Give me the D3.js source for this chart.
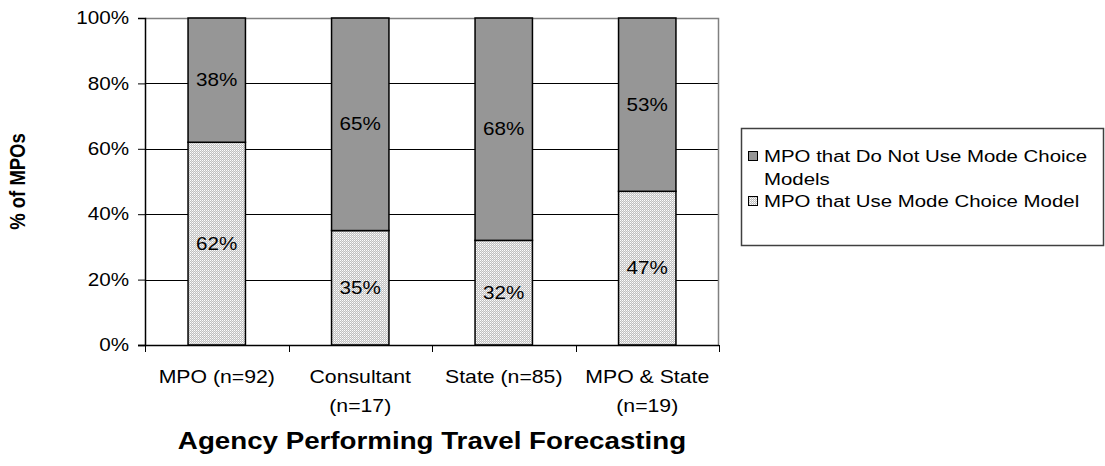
<!DOCTYPE html>
<html>
<head>
<meta charset="utf-8">
<script src="https://cdn.jsdelivr.net/npm/d3@7"></script>
<style>
  html, body { margin: 0; padding: 0; background: #fff; }
  svg { display: block; font-family: "Liberation Sans", Arial, sans-serif; }
</style>
</head>
<body>
<svg id="chart" width="1105" height="466"></svg>
<script>
// ---- data ----
const categories = ["MPO (n=92)", "Consultant (n=17)", "State (n=85)", "MPO & State (n=19)"];
const useModeChoice = [62, 35, 32, 47];
const notUseModeChoice = [38, 65, 68, 53];
const seriesNames = ["MPO that Do Not Use Mode Choice Models", "MPO that Use Mode Choice Model"];
const yTicks = [0, 20, 40, 60, 80, 100];
const yTitle = "% of MPOs";
const xTitle = "Agency Performing Travel Forecasting";

// ---- layout ----
const SX = 1.18; // horizontal text stretch seen in the reference
const svg = d3.select("#chart");
const plot = { left: 145, right: 719, top: 18, bottom: 345 };

const x = d3.scaleBand().domain(categories).range([plot.left, plot.right]).paddingInner(0.6).paddingOuter(0.3);
const xb = d3.scaleBand().domain(categories).range([plot.left, plot.right]);
const y = d3.scaleLinear().domain([0, 100]).range([plot.bottom, plot.top]);

// pattern for light series
const defs = svg.append("defs");
const pat = defs.append("pattern").attr("id", "dots").attr("patternUnits", "userSpaceOnUse")
  .attr("width", 2).attr("height", 2);
pat.append("rect").attr("width", 2).attr("height", 2).attr("fill", "#c0c0c0");
pat.append("rect").attr("width", 1).attr("height", 1).attr("fill", "#ffffff");
pat.append("rect").attr("x", 1).attr("y", 1).attr("width", 1).attr("height", 1).attr("fill", "#e4e4e4");

// gridlines
svg.append("g").selectAll("line").data(yTicks.filter(d => d > 0 && d < 100)).join("line")
  .attr("x1", plot.left).attr("x2", plot.right)
  .attr("y1", d => Math.round(y(d)) + 0.5).attr("y2", d => Math.round(y(d)) + 0.5)
  .attr("stroke", "#000").attr("stroke-width", 1);

// plot border (top/right gray)
svg.append("path")
  .attr("d", `M${plot.left},${plot.top + 0.5}H${plot.right - 0.5}V${plot.bottom}`)
  .attr("fill", "none").attr("stroke", "#808080").attr("stroke-width", 1.5);

// stacked data
const stack = categories.map((c, i) => ({ c, use: useModeChoice[i], not: notUseModeChoice[i] }));

const bars = svg.append("g");
bars.selectAll("rect.use").data(stack).join("rect").attr("class", "use")
  .attr("x", d => x(d.c)).attr("width", x.bandwidth())
  .attr("y", d => y(d.use)).attr("height", d => y(0) - y(d.use))
  .attr("fill", "url(#dots)").attr("stroke", "#000").attr("stroke-width", 1.5);
bars.selectAll("rect.not").data(stack).join("rect").attr("class", "not")
  .attr("x", d => x(d.c)).attr("width", x.bandwidth())
  .attr("y", d => y(d.use + d.not)).attr("height", d => y(d.use) - y(d.use + d.not))
  .attr("fill", "#969696").attr("stroke", "#000").attr("stroke-width", 1.5);

// value labels
const lbl = svg.append("g").attr("font-size", 17.5).attr("fill", "#000").attr("text-anchor", "middle");
function stretched(sel, fx, fy) {
  sel.attr("transform", d => `translate(${fx(d)},${fy(d)}) scale(${SX},1)`);
}
lbl.selectAll("text.u").data(stack).join("text").attr("dy", "0.35em")
  .call(stretched, d => x(d.c) + x.bandwidth() / 2, d => y(d.use / 2))
  .text(d => d.use + "%");
lbl.selectAll("text.n").data(stack).join("text").attr("dy", "0.35em")
  .call(stretched, d => x(d.c) + x.bandwidth() / 2, d => y(d.use + d.not / 2))
  .text(d => d.not + "%");

// y axis
const yAxis = svg.append("g").attr("transform", `translate(${plot.left},0)`)
  .call(d3.axisLeft(y).tickValues(yTicks).tickFormat(d => d + "%").tickSizeOuter(0).tickSize(7).tickPadding(9));
yAxis.select(".domain").attr("stroke", "#000").attr("stroke-width", 1.5);
yAxis.selectAll(".tick line").attr("stroke", "#000");
yAxis.selectAll(".tick text")
  .attr("font-size", 17.5).attr("font-family", "Liberation Sans, Arial, sans-serif").attr("fill", "#000")
  .attr("x", -16 / SX).attr("transform", `scale(${SX},1)`);

// x axis
const xAxis = svg.append("g").attr("transform", `translate(0,${plot.bottom})`);
xAxis.append("line").attr("x1", plot.left - 7).attr("x2", plot.right).attr("y1", 0.5).attr("y2", 0.5)
  .attr("stroke", "#000").attr("stroke-width", 1.5);
const boundaries = categories.map(c => xb(c)).concat([plot.right]);
xAxis.selectAll("line.tk").data(boundaries).join("line").attr("class", "tk")
  .attr("x1", d => Math.round(d) + 0.5).attr("x2", d => Math.round(d) + 0.5).attr("y1", 0).attr("y2", 7)
  .attr("stroke", "#000");

// x tick labels with wrapping
const xt = xAxis.selectAll("text.cat").data(categories).join("text").attr("class", "cat")
  .attr("transform", d => `translate(${xb(d) + xb.bandwidth() / 2},38) scale(${SX},1)`)
  .attr("text-anchor", "middle").attr("font-size", 18).attr("fill", "#000");
xt.each(function(d) {
  const t = d3.select(this);
  t.text(d);
  if (this.getComputedTextLength() * SX > xb.bandwidth() - 6) {
    const idx = d.lastIndexOf(" (");
    t.text(null);
    t.append("tspan").attr("x", 0).attr("dy", 0).text(d.slice(0, idx));
    t.append("tspan").attr("x", 0).attr("dy", 29).text(d.slice(idx + 1));
  }
});

// axis titles
svg.append("text").attr("transform", `translate(25,${(plot.top + plot.bottom) / 2}) scale(${SX},1) rotate(-90)`)
  .attr("text-anchor", "middle").attr("font-size", 18.5).attr("font-weight", "bold").text(yTitle);
svg.append("text").attr("transform", `translate(${(plot.left + plot.right) / 2},449) scale(${SX},1)`)
  .attr("text-anchor", "middle").attr("font-size", 23.5).attr("font-weight", "bold").text(xTitle);

// legend
const lg = svg.append("g");
lg.append("rect").attr("x", 741.5).attr("y", 128.5).attr("width", 362).attr("height", 117)
  .attr("fill", "#fff").attr("stroke", "#404040").attr("stroke-width", 1.5);
const legendItems = [
  { name: seriesNames[0], fill: "#969696", y: 156 },
  { name: seriesNames[1], fill: "url(#dots)", y: 201 }
];
legendItems.forEach(it => {
  lg.append("rect").attr("x", 748.5).attr("y", it.y - 4.5).attr("width", 9).attr("height", 9)
    .attr("fill", it.fill).attr("stroke", "#000").attr("stroke-width", 1);
  const t = lg.append("text").attr("transform", `translate(764,${it.y}) scale(${SX},1)`).attr("dy", "0.35em")
    .attr("font-size", 17.3).attr("fill", "#000").text(it.name);
  if (t.node().getComputedTextLength() * SX > 335) {
    const words = it.name.split(" ");
    const last = words.pop();
    t.text(null);
    t.append("tspan").attr("x", 0).text(words.join(" "));
    t.append("tspan").attr("x", 0).attr("dy", 23).text(last);
  }
});
</script>
</body>
</html>
